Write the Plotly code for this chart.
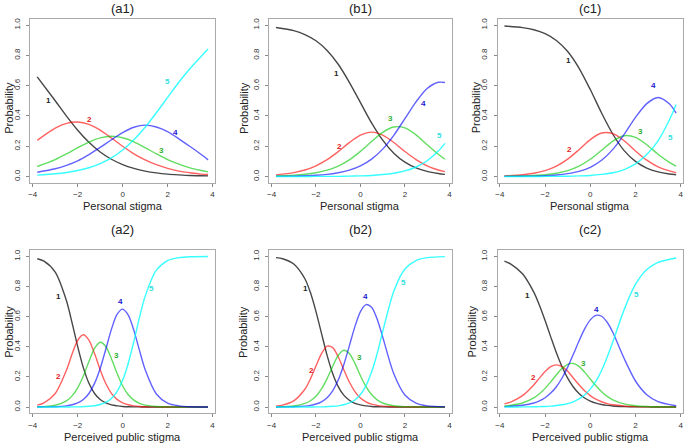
import plotly.graph_objects as go

# ---------------- data ----------------
x_top = [-3.8, -3, -2.5, -2, -1.5, -1, -0.5, 0, 0.5, 1, 1.5, 2, 2.5, 3, 3.5, 3.8]
x_bot = [-3.8, -3.5, -3, -2.5, -2.25, -2, -1.75, -1.5, -1.25, -1, -0.75, -0.5, -0.25,
         0, 0.25, 0.5, 0.75, 1, 1.5, 2, 2.5, 3, 3.8]

# (a1) personal stigma
a1_cat1 = [0.658, 0.500, 0.399, 0.306, 0.226, 0.162, 0.114, 0.079, 0.054, 0.036, 0.024, 0.016, 0.011, 0.007, 0.005, 0.004]
a1_cat2 = [0.239, 0.319, 0.351, 0.360, 0.344, 0.306, 0.254, 0.200, 0.150, 0.110, 0.078, 0.054, 0.036, 0.025, 0.016, 0.013]
a1_cat3 = [0.066, 0.112, 0.149, 0.190, 0.227, 0.255, 0.266, 0.256, 0.229, 0.190, 0.150, 0.112, 0.082, 0.057, 0.040, 0.031]
a1_cat4 = [0.028, 0.051, 0.074, 0.104, 0.145, 0.192, 0.243, 0.290, 0.325, 0.339, 0.327, 0.296, 0.249, 0.198, 0.145, 0.110]
a1_cat5 = [0.009, 0.018, 0.027, 0.040, 0.058, 0.085, 0.123, 0.175, 0.242, 0.325, 0.421, 0.522, 0.622, 0.713, 0.794, 0.842]

# (b1) personal stigma
b1_cat1 = [0.984, 0.963, 0.937, 0.896, 0.832, 0.741, 0.622, 0.488, 0.354, 0.240, 0.154, 0.095, 0.057, 0.034, 0.020, 0.014]
b1_cat2 = [0.011, 0.026, 0.043, 0.071, 0.111, 0.164, 0.224, 0.273, 0.293, 0.274, 0.225, 0.165, 0.112, 0.071, 0.043, 0.032]
b1_cat3 = [0.004, 0.009, 0.015, 0.025, 0.042, 0.069, 0.110, 0.166, 0.231, 0.292, 0.327, 0.321, 0.275, 0.210, 0.147, 0.114]
b1_cat4 = [0.001, 0.003, 0.005, 0.008, 0.014, 0.025, 0.042, 0.070, 0.115, 0.181, 0.272, 0.382, 0.493, 0.581, 0.622, 0.621]
b1_cat5 = [0.000, 0.000, 0.000, 0.001, 0.001, 0.001, 0.003, 0.004, 0.007, 0.013, 0.022, 0.037, 0.063, 0.104, 0.168, 0.219]

# (c1) personal stigma
c1_cat1 = [0.994, 0.983, 0.969, 0.943, 0.898, 0.825, 0.716, 0.574, 0.419, 0.279, 0.171, 0.100, 0.056, 0.031, 0.017, 0.012]
c1_cat2 = [0.005, 0.012, 0.022, 0.039, 0.069, 0.115, 0.177, 0.244, 0.287, 0.283, 0.236, 0.169, 0.108, 0.064, 0.037, 0.026]
c1_cat3 = [0.001, 0.004, 0.007, 0.012, 0.022, 0.039, 0.069, 0.114, 0.173, 0.234, 0.269, 0.259, 0.210, 0.147, 0.093, 0.068]
c1_cat4 = [0.001, 0.002, 0.003, 0.005, 0.010, 0.019, 0.034, 0.061, 0.107, 0.179, 0.278, 0.390, 0.481, 0.522, 0.480, 0.418]
c1_cat5 = [0.000, 0.000, 0.000, 0.001, 0.001, 0.002, 0.004, 0.007, 0.014, 0.025, 0.046, 0.083, 0.145, 0.236, 0.373, 0.476]

# (a2) perceived public stigma
a2_cat1 = [0.985, 0.969, 0.896, 0.706, 0.559, 0.401, 0.262, 0.158, 0.090, 0.050, 0.027, 0.014, 0.008, 0.004, 0.002, 0.001, 0.001, 0.000, 0, 0, 0, 0, 0]
a2_cat2 = [0.013, 0.028, 0.090, 0.245, 0.352, 0.443, 0.480, 0.445, 0.355, 0.248, 0.156, 0.091, 0.051, 0.028, 0.015, 0.008, 0.004, 0.002, 0.001, 0, 0, 0, 0]
a2_cat3 = [0.002, 0.003, 0.012, 0.041, 0.074, 0.127, 0.206, 0.303, 0.390, 0.430, 0.402, 0.321, 0.224, 0.140, 0.082, 0.046, 0.025, 0.013, 0.004, 0.001, 0, 0, 0]
a2_cat4 = [0.000, 0.001, 0.002, 0.008, 0.015, 0.027, 0.050, 0.090, 0.157, 0.256, 0.384, 0.516, 0.615, 0.650, 0.610, 0.509, 0.376, 0.249, 0.087, 0.026, 0.008, 0.002, 0.000]
a2_cat5 = [0, 0, 0, 0, 0.001, 0.001, 0.003, 0.005, 0.009, 0.017, 0.031, 0.057, 0.103, 0.178, 0.291, 0.437, 0.595, 0.735, 0.909, 0.973, 0.992, 0.998, 1.000]

# (b2) perceived public stigma
b2_cat1 = [0.992, 0.985, 0.950, 0.852, 0.760, 0.634, 0.488, 0.343, 0.223, 0.136, 0.079, 0.045, 0.025, 0.014, 0.008, 0.004, 0.002, 0.001, 0, 0, 0, 0, 0]
b2_cat2 = [0.006, 0.013, 0.041, 0.118, 0.187, 0.273, 0.355, 0.404, 0.395, 0.334, 0.248, 0.166, 0.103, 0.060, 0.035, 0.019, 0.011, 0.006, 0.002, 0.001, 0, 0, 0]
b2_cat3 = [0.001, 0.002, 0.007, 0.024, 0.042, 0.072, 0.121, 0.189, 0.270, 0.343, 0.377, 0.356, 0.290, 0.208, 0.136, 0.083, 0.048, 0.027, 0.009, 0.003, 0.001, 0, 0]
b2_cat4 = [0.000, 0.001, 0.002, 0.006, 0.011, 0.020, 0.035, 0.062, 0.108, 0.179, 0.281, 0.406, 0.534, 0.634, 0.680, 0.662, 0.585, 0.466, 0.221, 0.080, 0.026, 0.008, 0.001]
b2_cat5 = [0, 0, 0, 0, 0, 0.001, 0.001, 0.003, 0.005, 0.008, 0.015, 0.027, 0.047, 0.083, 0.142, 0.232, 0.354, 0.500, 0.769, 0.917, 0.973, 0.992, 0.999]

# (c2) perceived public stigma
c2_cat1 = [0.969, 0.948, 0.885, 0.763, 0.676, 0.574, 0.466, 0.361, 0.268, 0.192, 0.133, 0.090, 0.060, 0.040, 0.026, 0.017, 0.011, 0.007, 0.003, 0.001, 0.001, 0, 0]
c2_cat2 = [0.021, 0.035, 0.076, 0.147, 0.192, 0.236, 0.268, 0.280, 0.268, 0.237, 0.193, 0.148, 0.108, 0.076, 0.052, 0.035, 0.023, 0.015, 0.007, 0.003, 0.001, 0.001, 0]
c2_cat3 = [0.007, 0.012, 0.027, 0.061, 0.088, 0.124, 0.167, 0.214, 0.256, 0.284, 0.289, 0.270, 0.232, 0.186, 0.141, 0.102, 0.071, 0.048, 0.021, 0.009, 0.004, 0.002, 0]
c2_cat4 = [0.003, 0.005, 0.012, 0.027, 0.041, 0.062, 0.093, 0.135, 0.193, 0.265, 0.350, 0.438, 0.519, 0.579, 0.609, 0.603, 0.563, 0.495, 0.322, 0.173, 0.082, 0.036, 0.009]
c2_cat5 = [0, 0, 0.001, 0.002, 0.003, 0.004, 0.006, 0.010, 0.015, 0.023, 0.035, 0.054, 0.080, 0.119, 0.172, 0.243, 0.332, 0.434, 0.647, 0.814, 0.913, 0.961, 0.990]

category_names = ["1", "2", "3", "4", "5"]
panel_titles = ["(a1)", "(b1)", "(c1)", "(a2)", "(b2)", "(c2)"]
x_titles = ["Personal stigma", "Personal stigma", "Personal stigma",
            "Perceived public stigma", "Perceived public stigma", "Perceived public stigma"]
y_title = "Probability"
x_ticks = [-4, -2, 0, 2, 4]
y_ticks = [0, 0.2, 0.4, 0.6, 0.8, 1.0]
y_ticktext = ["0.0", "0.2", "0.4", "0.6", "0.8", "1.0"]

panels = [
    (x_top, [a1_cat1, a1_cat2, a1_cat3, a1_cat4, a1_cat5]),
    (x_top, [b1_cat1, b1_cat2, b1_cat3, b1_cat4, b1_cat5]),
    (x_top, [c1_cat1, c1_cat2, c1_cat3, c1_cat4, c1_cat5]),
    (x_bot, [a2_cat1, a2_cat2, a2_cat3, a2_cat4, a2_cat5]),
    (x_bot, [b2_cat1, b2_cat2, b2_cat3, b2_cat4, b2_cat5]),
    (x_bot, [c2_cat1, c2_cat2, c2_cat3, c2_cat4, c2_cat5]),
]

# curve label positions (layout, data coordinates)
label_pos = [
    [(-3.29, 0.50), (-1.47, 0.376), (1.71, 0.175), (2.35, 0.293), (2.0, 0.628)],
    [(-1.06, 0.683), (-0.96, 0.197), (1.37, 0.382), (2.85, 0.485), (3.57, 0.269)],
    [(-0.97, 0.767), (-0.91, 0.176), (2.21, 0.297), (2.8, 0.598), (3.53, 0.257)],
    [(-2.86, 0.737), (-2.86, 0.2035), (-0.26, 0.341), (-0.1, 0.70), (1.30, 0.788)],
    [(-2.46, 0.784), (-2.2, 0.243), (-0.04, 0.327), (0.22, 0.731), (1.95, 0.828)],
    [(-2.76, 0.741), (-2.52, 0.199), (-0.285, 0.292), (0.27, 0.646), (2.04, 0.746)],
]

# ---------------- styling / layout ----------------
W, H = 685, 444
line_colors = ["rgba(0,0,0,0.72)", "rgba(255,0,0,0.62)", "rgba(0,200,0,0.62)",
               "rgba(0,0,255,0.62)", "rgba(0,255,255,0.78)"]
label_colors = ["#222222", "#e02020", "#30b030", "#2020d0", "#30e0e0"]
FONT = "Liberation Sans, Arial, sans-serif"

box_x = [(28.5, 213.5), (268, 451), (497, 683)] * 2
box_y = [(18, 182)] * 3 + [(250, 413)] * 3
ytitle_x = [7, 242, 475, 7, 241, 471]
xtitle_y = [205, 436.5]

fig = go.Figure()
annotations = []
layout = dict(width=W, height=H, margin=dict(l=0, r=0, t=0, b=0),
              paper_bgcolor="white", plot_bgcolor="white", showlegend=False,
              font=dict(family=FONT))

for i, (xs, series) in enumerate(panels):
    ax = "" if i == 0 else str(i + 1)
    for k, ys in enumerate(series):
        fig.add_trace(go.Scatter(x=xs, y=ys, mode="lines", name=category_names[k],
                                 line=dict(color=line_colors[k], width=1.4, shape="spline", smoothing=0.8),
                                 xaxis="x" + ax, yaxis="y" + ax, hoverinfo="skip"))
        lx, ly = label_pos[i][k]
        annotations.append(dict(x=lx, y=ly, xref="x" + ax, yref="y" + ax, text="<b>%s</b>" % category_names[k],
                                showarrow=False, font=dict(size=8, color=label_colors[k], family=FONT)))
    x0, x1 = box_x[i]
    y0, y1 = box_y[i]
    layout["xaxis" + ax] = dict(domain=[x0 / W, x1 / W], anchor="y" + ax, range=[-4.104, 4.104],
                                tickvals=x_ticks, ticks="outside", ticklen=3, tickcolor="#888",
                                ticklabelstandoff=1,
                                tickfont=dict(size=8, color="#333"), showgrid=False, zeroline=False,
                                showline=True, mirror=True, linecolor="#aaaaaa", linewidth=1, fixedrange=True)
    layout["yaxis" + ax] = dict(domain=[1 - y1 / H, 1 - y0 / H], anchor="x" + ax, range=[-0.04, 1.04],
                                tickvals=y_ticks, ticktext=y_ticktext, tickangle=-90, ticks="outside",
                                ticklen=3, tickcolor="#888", tickfont=dict(size=8, color="#333"),
                                ticklabelstandoff=3,
                                showgrid=False, zeroline=False, showline=True, mirror=True,
                                linecolor="#aaaaaa", linewidth=1, fixedrange=True)
    cx = (x0 + x1) / 2
    # panel title
    annotations.append(dict(x=cx / W, y=1 - (8 if i < 3 else 229) / H, xref="paper", yref="paper",
                            text=panel_titles[i], showarrow=False, xanchor="center", yanchor="middle",
                            font=dict(size=13, color="#222")))
    # x-axis title
    annotations.append(dict(x=cx / W, y=1 - xtitle_y[0 if i < 3 else 1] / H, xref="paper", yref="paper",
                            text=x_titles[i], showarrow=False, xanchor="center", yanchor="middle",
                            font=dict(size=11, color="#222")))
    # y-axis title
    annotations.append(dict(x=ytitle_x[i] / W, y=1 - ((y0 + y1) / 2 + (7 if i < 3 else 0)) / H,
                            xref="paper", yref="paper", text=y_title, textangle=-90, showarrow=False,
                            xanchor="center", yanchor="middle", font=dict(size=11, color="#222")))

layout["annotations"] = annotations
fig.update_layout(**layout)
fig.write_html("out.html", config={"displayModeBar": False},
               post_script="document.body.style.margin='0';")
